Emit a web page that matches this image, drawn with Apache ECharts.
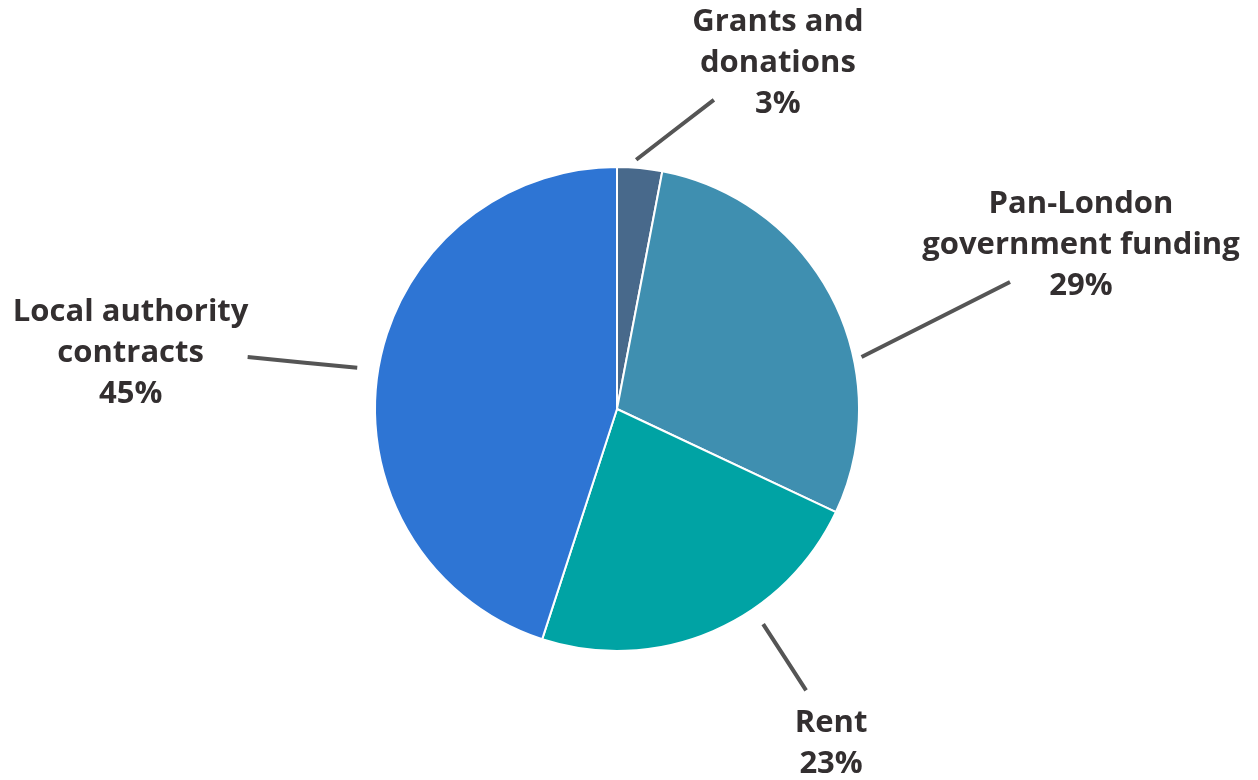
<!DOCTYPE html>
<html>
<head>
<meta charset="utf-8">
<style>
  html, body { margin: 0; padding: 0; background: #ffffff; }
  #chart { width: 1258px; height: 780px; }
</style>
<script src="https://cdn.jsdelivr.net/npm/echarts@6/dist/echarts.min.js"></script>
</head>
<body>
<div id="chart"></div>
<script>
// ---- Data ----
var categories = ['Grants and\ndonations', 'Pan-London\ngovernment funding', 'Rent', 'Local authority\ncontracts'];
var shares = [3, 29, 23, 45];
var sliceColors = ['#48698b', '#3f8fb0', '#00a3a4', '#2e75d4'];

// ---- Layout (leader lines in polar terms around pie center, label offsets from line end) ----
var CENTER = [617, 409];
var RADIUS = 242;
// [startAngleDeg, startR, endAngleDeg, endR, labelDx, labelDy] ; angles clockwise from top
var leader = [
  [4.4, 250, 17.4, 324, 64, -37],
  [78.0, 250, 72.1, 413, 71, -37],
  [145.8, 260, 146.1, 339, 25, 53],
  [279.0, 263, 278.0, 373, -117, -4]
];
function polar(a, r) {
  var t = a * Math.PI / 180;
  return [CENTER[0] + r * Math.sin(t), CENTER[1] - r * Math.cos(t)];
}

var data = categories.map(function (c, i) {
  return { name: c, value: shares[i], itemStyle: { color: sliceColors[i] } };
});

var chart = echarts.init(document.getElementById('chart'), null, { renderer: 'canvas' });
chart.setOption({
  backgroundColor: '#ffffff',
  animation: false,
  series: [{
    type: 'pie',
    center: CENTER,
    radius: [0, RADIUS],
    startAngle: 90,
    clockwise: true,
    data: data,
    itemStyle: { borderColor: '#ffffff', borderWidth: 2 },
    emphasis: { disabled: true },
    label: {
      show: true,
      formatter: function (p) {
        return p.name.split('\n').map(function (s) { return '{t|' + s + '}'; }).join('\n') +
          '\n{t|' + p.value + '%}';
      },
      rich: {
        t: {
          fontFamily: '"Open Sans", Lato, sans-serif',
          fontWeight: 'bold',
          fontSize: 31,
          lineHeight: 41,
          color: '#332f30',
          align: 'center'
        }
      }
    },
    labelLine: {
      show: true,
      lineStyle: { color: '#555555', width: 4 }
    },
    labelLayout: function (params) {
      var L = leader[params.dataIndex];
      var p0 = polar(L[0], L[1]);
      var p2 = polar(L[2], L[3]);
      var p1 = [(p0[0] + p2[0]) / 2, (p0[1] + p2[1]) / 2];
      return {
        x: p2[0] + L[4],
        y: p2[1] + L[5],
        align: 'center',
        verticalAlign: 'middle',
        labelLinePoints: [p0, p1, p2]
      };
    }
  }]
});
</script>
</body>
</html>
